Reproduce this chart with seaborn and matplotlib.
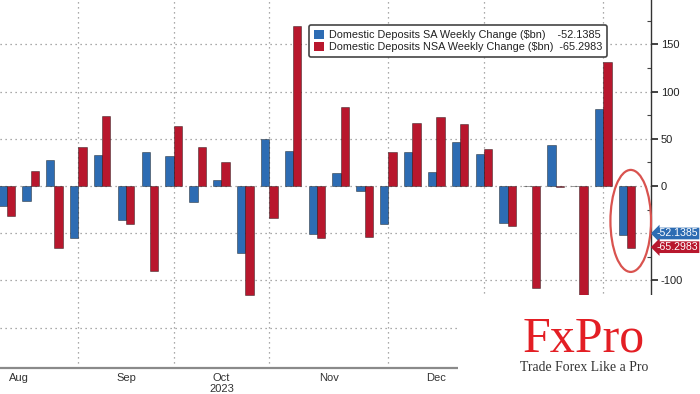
import matplotlib
matplotlib.use("Agg")
import matplotlib.pyplot as plt
import matplotlib.transforms as mtransforms
from matplotlib.patches import Ellipse, Rectangle, Patch
import pandas as pd
import seaborn as sns

# weekly data (week ending Wednesday)
weeks = pd.date_range("2023-08-16", periods=27, freq="7D")
sa_change = [-21, -15.5, 27, -55.5, 33, -36, 36, 32, -17, 6.5, -70.5, 50, 37.5, -50.5,
             14, -5, -40, 36, 15, 47, 34, -39.5, -0.5, 43, -0.5, 82, -52.1385]
nsa_change = [-31.5, 15.5, -65.5, 41, 74, -40, -90, 63.5, 41.5, 25, -115, -34, 169.5, -55.5,
              83.5, -53.5, 36.5, 66.5, 73.5, 65.5, 39, -42, -107.5, -1, -116, 131.5, -65.2983]
series_names = ["Domestic Deposits SA Weekly Change ($bn)",
                "Domestic Deposits NSA Weekly Change ($bn)"]
last_values = ["-52.1385", "-65.2983"]
month_starts = pd.to_datetime(["2023-08-01", "2023-09-01", "2023-10-01", "2023-11-01",
                               "2023-12-01", "2024-01-01", "2024-02-01", "2024-03-01"])
month_labels = ["Aug", "Sep", "Oct", "Nov", "Dec", "Jan", "Feb"]

blue = "#2d6cb3"
red = "#b8172d"

week_keys = [d.strftime("%Y-%m-%d") for d in weeks]
df = pd.DataFrame({
    "week": week_keys * 2,
    "change": sa_change + nsa_change,
    "series": ["SA"] * len(weeks) + ["NSA"] * len(weeks),
})

sns.set_style("white")
plt.rcParams["font.family"] = ["Liberation Sans", "DejaVu Sans"]

fig = plt.figure(figsize=(7, 3.94), dpi=100)
ax = fig.add_axes([0, 26.3 / 394, 651 / 700, 367.7 / 394])

sns.barplot(data=df, x="week", y="change", hue="series", order=week_keys,
            hue_order=["SA", "NSA"], palette=[blue, red], saturation=1,
            width=0.7, edgecolor=(0, 0, 0, 0.45), linewidth=0.6, legend=False, ax=ax)

ax.set_xlim(-0.28, 26.85)
ax.set_ylim(-192.4, 196.9)
ax.set_xlabel("")
ax.set_ylabel("")

# position of a date on the weekly category axis
def date_pos(d):
    return (d - weeks[0]).days / 7

# first week of each month -> gridlines; label in the middle of the month
first_weeks = []
for m in month_starts:
    wd = (2 - m.weekday()) % 7
    first_weeks.append(date_pos(m + pd.Timedelta(days=wd)))
grid_pos = [p for p in first_weeks if -0.28 < p < 26.85]
label_pos = [(a + b) / 2 for a, b in zip(first_weeks[:-1], first_weeks[1:])]

ax.set_xticks(grid_pos)
ax.set_xticklabels([])
ax.set_xticks(label_pos, minor=True)
ax.set_xticklabels(month_labels, minor=True, fontsize=8, color="#333333")
ax.tick_params(axis="x", which="major", length=4, width=1, color="#777777", direction="out")
ax.tick_params(axis="x", which="minor", length=0, pad=4)

oct_pos = label_pos[month_labels.index("Oct")]
trans = mtransforms.blended_transform_factory(ax.transData, ax.transAxes)
ax.text(oct_pos, -0.058, "2023", transform=trans, ha="center", va="center",
        fontsize=8, color="#333333")

# right axis
ax.yaxis.tick_right()
ax.set_yticks([-150, -100, -50, 0, 50, 100, 150])
ax.set_yticklabels(["", "-100", "", "0", "50", "100", "150"], fontsize=8, color="#222222")
ax.set_yticks(range(-175, 200, 25), minor=True)
ax.tick_params(axis="y", which="major", length=5, width=1.2, color="#222222", direction="out", pad=2)
ax.tick_params(axis="y", which="minor", length=3, width=0.8, color="#444444", direction="in")

for s in ["left", "top"]:
    ax.spines[s].set_visible(False)
ax.spines["right"].set_color("#333333")
ax.spines["right"].set_linewidth(1)
ax.spines["bottom"].set_color("#8a8a8a")
ax.spines["bottom"].set_linewidth(1.6)

# dotted grid
for y in range(-150, 200, 50):
    ax.axhline(y, color="#8f8f8f", lw=0.9, ls=(0, (1, 3)), zorder=0)
for x in grid_pos:
    ax.axvline(x, color="#8f8f8f", lw=0.9, ls=(0, (1, 3)), zorder=0)

# legend
handles = [Patch(facecolor=blue, edgecolor="none"), Patch(facecolor=red, edgecolor="none")]
labels = [series_names[0] + "    " + last_values[0], series_names[1] + "  " + last_values[1]]
leg = fig.legend(handles, labels, loc="upper left", bbox_to_anchor=(309 / 700, 1 - 25 / 394),
                 fontsize=7.8, frameon=True, fancybox=True, handlelength=0.9, handleheight=0.9,
                 handletextpad=0.5, borderpad=0.45, labelspacing=0.15, borderaxespad=0)
leg.get_frame().set_edgecolor("#444444")
leg.get_frame().set_linewidth(1.2)
leg.get_frame().set_alpha(1)
for t in leg.get_texts():
    t.set_color("#222222")

# last value tags on the right axis
tag_trans = mtransforms.blended_transform_factory(ax.transAxes, ax.transData)
for txt, col, ypos in [(last_values[0], blue, -50.3), (last_values[1], red, -64.8)]:
    ax.text(1.009, ypos, txt, transform=tag_trans, ha="left", va="center", fontsize=7.6,
            color="white", clip_on=False,
            bbox=dict(boxstyle="larrow,pad=0.08", fc=col, ec="none"))

# highlight ellipse round the latest week
ax.add_patch(Ellipse((26.15, -37), 1.7, 108, fill=False, ec="#d9534f", lw=1.6, zorder=5,
                     clip_on=False))

# logo panel
fig.add_artist(Rectangle((458 / 700, 0), 1 - 458 / 700, 99 / 394, transform=fig.transFigure,
                         fc="white", ec="none", zorder=10))
fig.text(584 / 700, 43 / 394, "FxPro", ha="center", va="baseline", fontsize=36,
         family="Liberation Serif", color="#e31e24", zorder=11)
fig.text(584 / 700, 23 / 394, "Trade Forex Like a Pro", ha="center", va="baseline",
         fontsize=9.9, family="Liberation Serif", color="#333333", zorder=11)

fig.savefig("out.png", dpi=100)
